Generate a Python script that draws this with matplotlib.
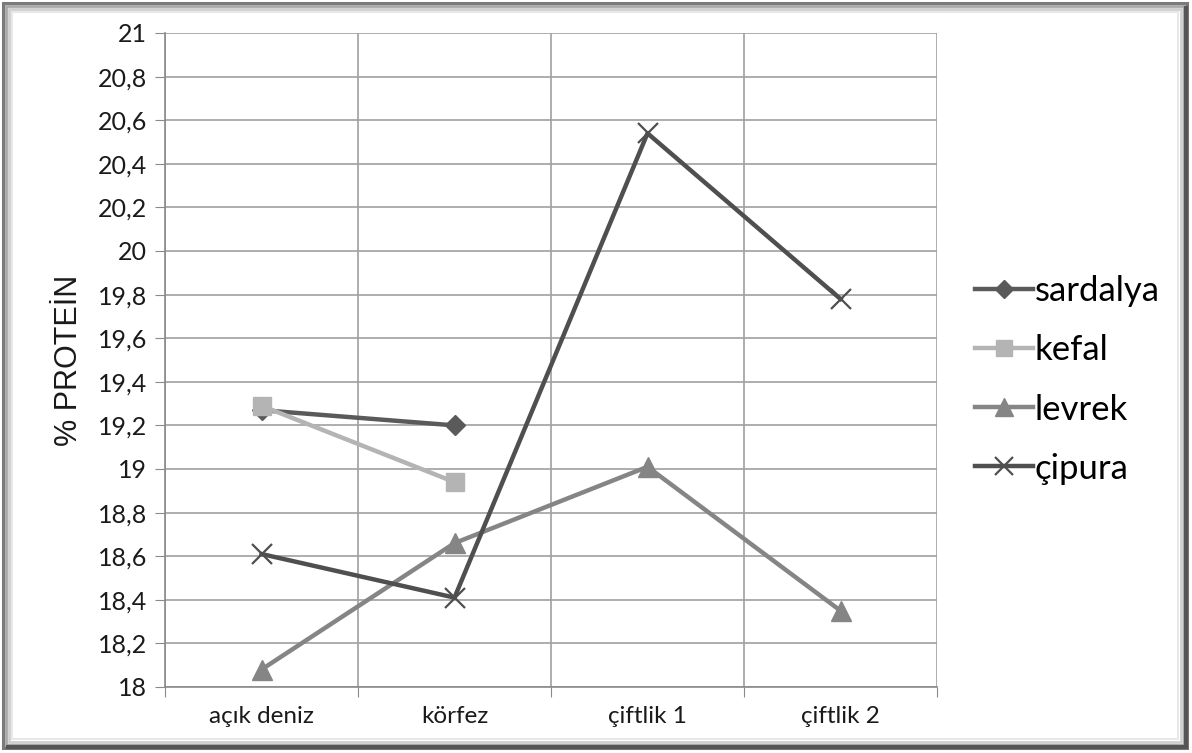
import matplotlib
matplotlib.use("Agg")
import matplotlib.pyplot as plt
from matplotlib.patches import Rectangle
from matplotlib.lines import Line2D

categories = ["açık deniz", "körfez", "çiftlik 1", "çiftlik 2"]
sardalya = [19.27, 19.20, None, None]
kefal = [19.29, 18.94, None, None]
levrek = [18.08, 18.66, 19.01, 18.35]
cipura = [18.61, 18.41, 20.54, 19.78]
y_ticks = [18 + 0.2 * i for i in range(16)]
y_tick_labels = [f"{v:.1f}".replace(".", ",").replace(",0", "") for v in y_ticks]

plt.rcParams["font.family"] = ["Lato", "DejaVu Sans"]

W, H = 1192, 753
fig = plt.figure(figsize=(W / 100, H / 100), dpi=100)
fig.patch.set_facecolor("white")

# beveled picture frame
def frame(x0, y0, x1, y1, color, lw):
    fig.patches.append(Rectangle((x0 / W, 1 - y1 / H), (x1 - x0) / W, (y1 - y0) / H,
                                 transform=fig.transFigure, fill=False,
                                 edgecolor=color, linewidth=lw, zorder=0))

frame(3, 3, 1187, 748, "#7a7a7a", 2.2)
frame(6, 6, 1184, 745, "#a8a8a8", 2.0)
frame(9, 9, 1181, 742, "#cfcfcf", 2.0)
frame(12, 12, 1178, 739, "#e8e8e8", 1.5)
# right / bottom shadow
fig.add_artist(Line2D([1186 / W, 1186 / W], [1 - 746 / H, 1 - 8 / H], color="#555555", lw=3))
fig.add_artist(Line2D([8 / W, 1186 / W], [1 - 747 / H, 1 - 747 / H], color="#555555", lw=3))

ax = fig.add_axes([165 / W, 1 - 687 / H, (937 - 165) / W, (687 - 33) / H])
x = [0.5, 1.5, 2.5, 3.5]

def seg(vals):
    xs = [xi for xi, v in zip(x, vals) if v is not None]
    ys = [v for v in vals if v is not None]
    return xs, ys

xs, ys = seg(levrek)
ax.plot(xs, ys, color="#858585", lw=3.2, marker="^", ms=14, mfc="#858585", mec="#858585",
        label="levrek", zorder=3)
xs, ys = seg(cipura)
ax.plot(xs, ys, color="#4f4f4f", lw=3.2, marker="x", ms=15, mew=1.6, mec="#4f4f4f",
        label="çipura", zorder=4)
xs, ys = seg(sardalya)
ax.plot(xs, ys, color="#5a5a5a", lw=3.2, marker="D", ms=10, mfc="#5a5a5a", mec="#5a5a5a",
        label="sardalya", zorder=5)
xs, ys = seg(kefal)
ax.plot(xs, ys, color="#b4b4b4", lw=3.2, marker="s", ms=13, mfc="#b4b4b4", mec="#b4b4b4",
        label="kefal", zorder=6)

ax.set_xlim(0, 4)
ax.set_ylim(18, 21)
ax.set_yticks(y_ticks)
ax.set_yticklabels(y_tick_labels, fontsize=18, color="#1a1a1a")
ax.set_xticks([0, 1, 2, 3, 4])
ax.set_xticklabels([])
ax.set_xticks(x, minor=True)
ax.set_xticklabels(categories, minor=True, fontsize=17.5, color="#1a1a1a")
ax.tick_params(axis="x", which="minor", length=0, pad=14)
ax.tick_params(axis="x", which="major", length=7, direction="out", color="#8a8a8a")
ax.tick_params(axis="y", length=7, direction="out", color="#8a8a8a", pad=6)
ax.grid(True, which="major", color="#a0a0a0", lw=1.2)
ax.set_axisbelow(True)
for s in ["top", "right"]:
    ax.spines[s].set_visible(False)
for s in ["left", "bottom"]:
    ax.spines[s].set_color("#8a8a8a")
    ax.spines[s].set_linewidth(1.2)

ax.set_ylabel("% PROTEİN", fontsize=22, color="#1a1a1a", labelpad=10,
              family=["Liberation Sans", "DejaVu Sans"])

handles, labels = ax.get_legend_handles_labels()
order = ["sardalya", "kefal", "levrek", "çipura"]
hmap = dict(zip(labels, handles))
leg = fig.legend([hmap[k] for k in order], order, loc="center left",
                 bbox_to_anchor=(944 / W, 1 - 380 / H), frameon=False,
                 fontsize=25, handlelength=1.67, handletextpad=0.05, labelspacing=0.78,
                 markerscale=0.9)

fig.savefig("out.png", dpi=100)
